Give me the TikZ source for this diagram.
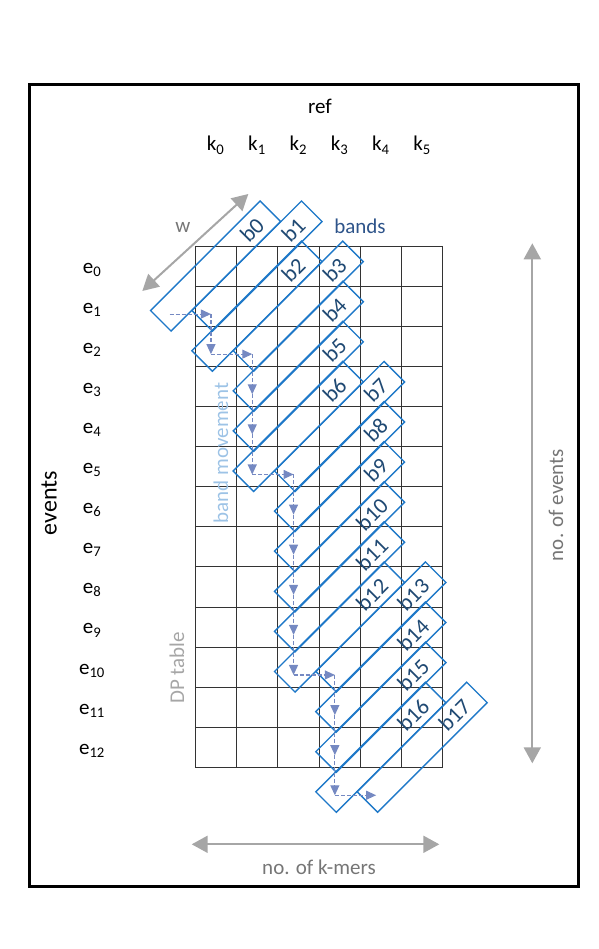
\documentclass[tikz,border=0pt]{standalone}
\usepackage{fontspec}
\setmainfont{Carlito}
\usetikzlibrary{positioning,calc,arrows.meta}
\definecolor{bandblue}{RGB}{30,120,200}
\definecolor{bandtext}{RGB}{31,73,115}
\definecolor{bandsname}{RGB}{46,84,138}
\definecolor{movecol}{RGB}{117,137,194}
\definecolor{movetext}{RGB}{157,195,230}
\definecolor{dimgray}{RGB}{166,166,166}
\definecolor{dimtext}{RGB}{118,118,118}
\newcommand{\colx}[1]{195+41.3*(#1+0.5)}
\newcommand{\rowy}[1]{246+40.1*(#1+0.5)}

\begin{document}
\begin{tikzpicture}[x=1pt,y=-1pt,font=\fontsize{21}{25}\selectfont,
  band/.style={draw=bandblue,line width=1.4pt,rotate=45,minimum width=155pt,minimum height=29pt,
    inner sep=0pt,text width=126pt,align=right,text=bandtext,font=\fontsize{22.5}{26}\selectfont},
  bandmove/.style={draw=movecol,line width=1.1pt,dash pattern=on 4pt off 2pt,-{Triangle[length=10pt,width=9pt]}},
  dimarrow/.style={draw=dimgray,line width=2pt,{Triangle[length=16pt,width=17pt]}-{Triangle[length=16pt,width=17pt]}},
  gridline/.style={line width=0.8pt,black!80}]
  \useasboundingbox (0,0) rectangle (598,949);
  \draw[line width=3pt] (29.2,85) rectangle (578.3,886.7);
  % DP table
  \foreach \c in {0,...,6} \draw[gridline] ({195+41.3*\c},246) -- ({195+41.3*\c},767.3);
  \foreach \r in {0,...,13} \draw[gridline] (195,{246+40.1*\r}) -- (442.8,{246+40.1*\r});
  \node (ref) at (320,106) {ref};
  \foreach \c in {0,...,5} \node[anchor=base] (k\c) at ({\colx{\c}},151) {k\textsubscript{\c}};
  \foreach \r in {0,...,12} \node[anchor=base] (e\r) at (92,{\rowy{\r}+7}) {e\textsubscript{\r}};
  % bands
  \foreach \r/\c [count=\i from 0] in {0/0,0/1,1/1,1/2,2/2,3/2,4/2,4/3,5/3,6/3,7/3,8/3,9/3,9/4,10/4,11/4,12/4,12/5}{
    \node[band] (b\i) at ({\colx{\c}},{\rowy{\r}}) {b\i};
    \coordinate (m\i) at ($(b\i.center)+(-46,48)$);
  }
  \foreach \i in {1,...,17}{\pgfmathtruncatemacro\h{\i-1}\draw[bandmove] (m\h) -- (m\i);}
  \node[text=bandsname] (bandsname) at (360,226) {bands};
  \coordinate (wlo) at (142.3,291); \coordinate (whi) at (248.3,194);
  \draw[dimarrow] (wlo) -- (whi);  \node[text=dimtext] (wlab) at (183,227) {w};
  \node[rotate=90,text=movetext] (bmove) at (221,453) {band movement};
  \node[rotate=90,text=dimgray] (dptab) at (177,668) {DP table};
  \node[rotate=90,font=\fontsize{24}{28}\selectfont] (events) at (49,503) {events};
  % axes
  \coordinate (evtop) at (532.3,243.3); \coordinate (evbot) at (532.3,763.3);
  \draw[dimarrow] (evtop) -- (evbot);  \node[rotate=90,text=dimtext] (nevents) at (556,505) {no. of events};
  \coordinate (kmlft) at (191.7,844.3); \coordinate (kmrgt) at (439.3,844.3);
  \draw[dimarrow] (kmlft) -- (kmrgt);  \node[text=dimtext] (nkmers) at (319,867) {no. of k-mers};
\end{tikzpicture}
\end{document}
